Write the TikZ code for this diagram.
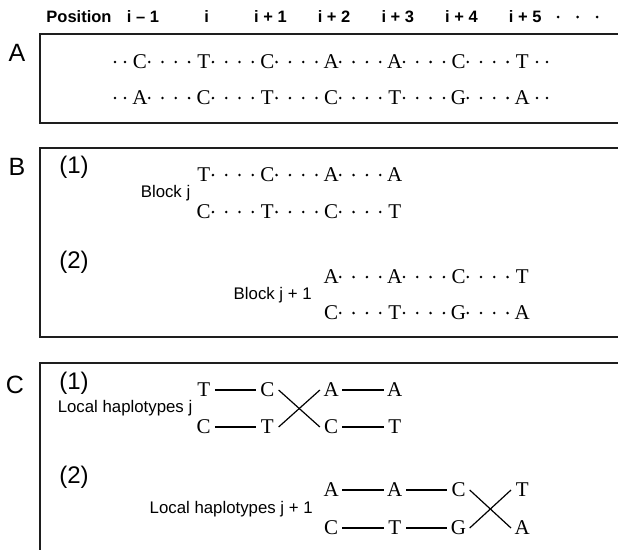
\documentclass[tikz,border=0pt]{standalone}
\usepackage{fontspec}
\setmainfont{Liberation Serif}
\setsansfont{Liberation Sans}
\definecolor{frameGray}{HTML}{1E1E1E}
\usetikzlibrary{positioning,calc}

\begin{document}
\begin{tikzpicture}[x=1pt,y=-1pt,
  base/.style={font=\fontsize{21}{22}\selectfont,inner sep=0pt,minimum width=22pt,minimum height=15pt},
  lbl/.style={font=\sffamily\fontsize{16.8}{18}\selectfont,inner sep=0pt},
  head/.style={font=\sffamily\bfseries\fontsize{16.5}{18}\selectfont,inner sep=0pt},
  panel/.style={font=\sffamily\fontsize{25}{26}\selectfont,inner sep=0pt},
  part/.style={font=\sffamily\fontsize{24}{26}\selectfont,inner sep=0pt},
  frame/.style={draw=frameGray,line width=2pt},
  dots/.style={line width=2.8pt,line cap=round,dash pattern=on 0pt off 13.3pt,shorten <=-2pt},
  ends/.style={dots,shorten <=0pt,dash pattern=on 0pt off 10pt},
  bond/.style={line width=1.2pt}]
\useasboundingbox (0,0) rectangle (618,550);

% frames, open on the right
\draw[frame] (618,34) -- (39.5,34) -- (39.5,123) -- (618,123);
\draw[frame] (618,148) -- (39.5,148) -- (39.5,337) -- (618,337);
\draw[frame] (618,363) -- (39.5,363) -- (39.5,550);

% header
\node[head] (pos) at (79,17) {Position};
\foreach \t [count=\k from 0] in {i – 1,i,i + 1,i + 2,i + 3,i + 4,i + 5}
  \node[head] (h\k) at (143+63.7*\k,17) {\t};
\coordinate (hd1) at (558,17); \coordinate (hd2) at (598,17);
\draw[dots,shorten <=0pt,line width=3pt,dash pattern=on 0pt off 19.5pt] (hd1) -- (hd2);

% panel labels
\node[panel] (la) at (17,53) {A};
\node[panel] (lb) at (17,167) {B};
\node[panel] (lc) at (15,385) {C};
\node[part] (b1) at (74,167) {(1)};
\node[part] (b2) at (74,262) {(2)};
\node[part] (c1) at (74,383) {(1)};
\node[part] (c2) at (74,477) {(2)};

% A: both strands
\foreach \b [count=\k from 0] in {C,T,C,A,A,C,T} \node[base] (au\k) at (140+63.7*\k,62) {\b};
\foreach \b [count=\k from 0] in {A,C,T,C,T,G,A} \node[base] (al\k) at (140+63.7*\k,98) {\b};
\foreach \k [remember=\k as \p (initially 0)] in {1,...,6} {\draw[dots] (au\p) -- (au\k); \draw[dots] (al\p) -- (al\k);}
\coordinate (as1) at (115,62); \coordinate (ae1) at (547,62);
\coordinate (as2) at (115,98); \coordinate (ae2) at (547,98);
\draw[ends] (as1) -- (au0); \draw[ends] (ae1) -- (au6);
\draw[ends] (as2) -- (al0); \draw[ends] (ae2) -- (al6);

% B: blocks
\foreach \b [count=\k] in {T,C,A,A} \node[base] (bu\k) at (140+63.7*\k,175) {\b};
\foreach \b [count=\k] in {C,T,C,T} \node[base] (bl\k) at (140+63.7*\k,212) {\b};
\foreach \b [count=\k from 3] in {A,A,C,T} \node[base] (bv\k) at (140+63.7*\k,277) {\b};
\foreach \b [count=\k from 3] in {C,T,G,A} \node[base] (bw\k) at (140+63.7*\k,313) {\b};
\foreach \k [remember=\k as \p (initially 1)] in {2,3,4} {\draw[dots] (bu\p) -- (bu\k); \draw[dots] (bl\p) -- (bl\k);}
\foreach \k [remember=\k as \p (initially 3)] in {4,5,6} {\draw[dots] (bv\p) -- (bv\k); \draw[dots] (bw\p) -- (bw\k);}
\coordinate (bm1) at ($(bu1.west)!.5!(bl1.west)$);
\coordinate (bm2) at ($(bv3.west)!.5!(bw3.west)$);
\node[lbl,left=2pt of bm1] (blk1) {Block j};
\node[lbl,left=8pt of bm2] (blk2) {Block j + 1};

% C: local haplotypes
\foreach \b [count=\k] in {T,C,A,A} \node[base] (cu\k) at (140+63.7*\k,390) {\b};
\foreach \b [count=\k] in {C,T,C,T} \node[base] (cl\k) at (140+63.7*\k,427) {\b};
\foreach \b [count=\k from 3] in {A,A,C,T} \node[base] (cv\k) at (140+63.7*\k,490) {\b};
\foreach \b [count=\k from 3] in {C,T,G,A} \node[base] (cw\k) at (140+63.7*\k,528) {\b};
\draw[bond] (cu1) -- (cu2); \draw[bond] (cu3) -- (cu4);
\draw[bond] (cl1) -- (cl2); \draw[bond] (cl3) -- (cl4);
\draw[bond] (cu2.east) -- (cl3.west); \draw[bond] (cl2.east) -- (cu3.west);
\draw[bond] (cv3) -- (cv4); \draw[bond] (cv4) -- (cv5);
\draw[bond] (cw3) -- (cw4); \draw[bond] (cw4) -- (cw5);
\draw[bond] (cv5.east) -- (cw6.west); \draw[bond] (cw5.east) -- (cv6.west);
\coordinate (cm1) at ($(cu1.west)!.5!(cl1.west)$);
\coordinate (cm2) at ($(cv3.west)!.5!(cw3.west)$);
\node[lbl,left=0pt of cm1] (hap1) {Local haplotypes j};
\node[lbl,left=7pt of cm2] (hap2) {Local haplotypes j + 1};
\end{tikzpicture}
\end{document}
